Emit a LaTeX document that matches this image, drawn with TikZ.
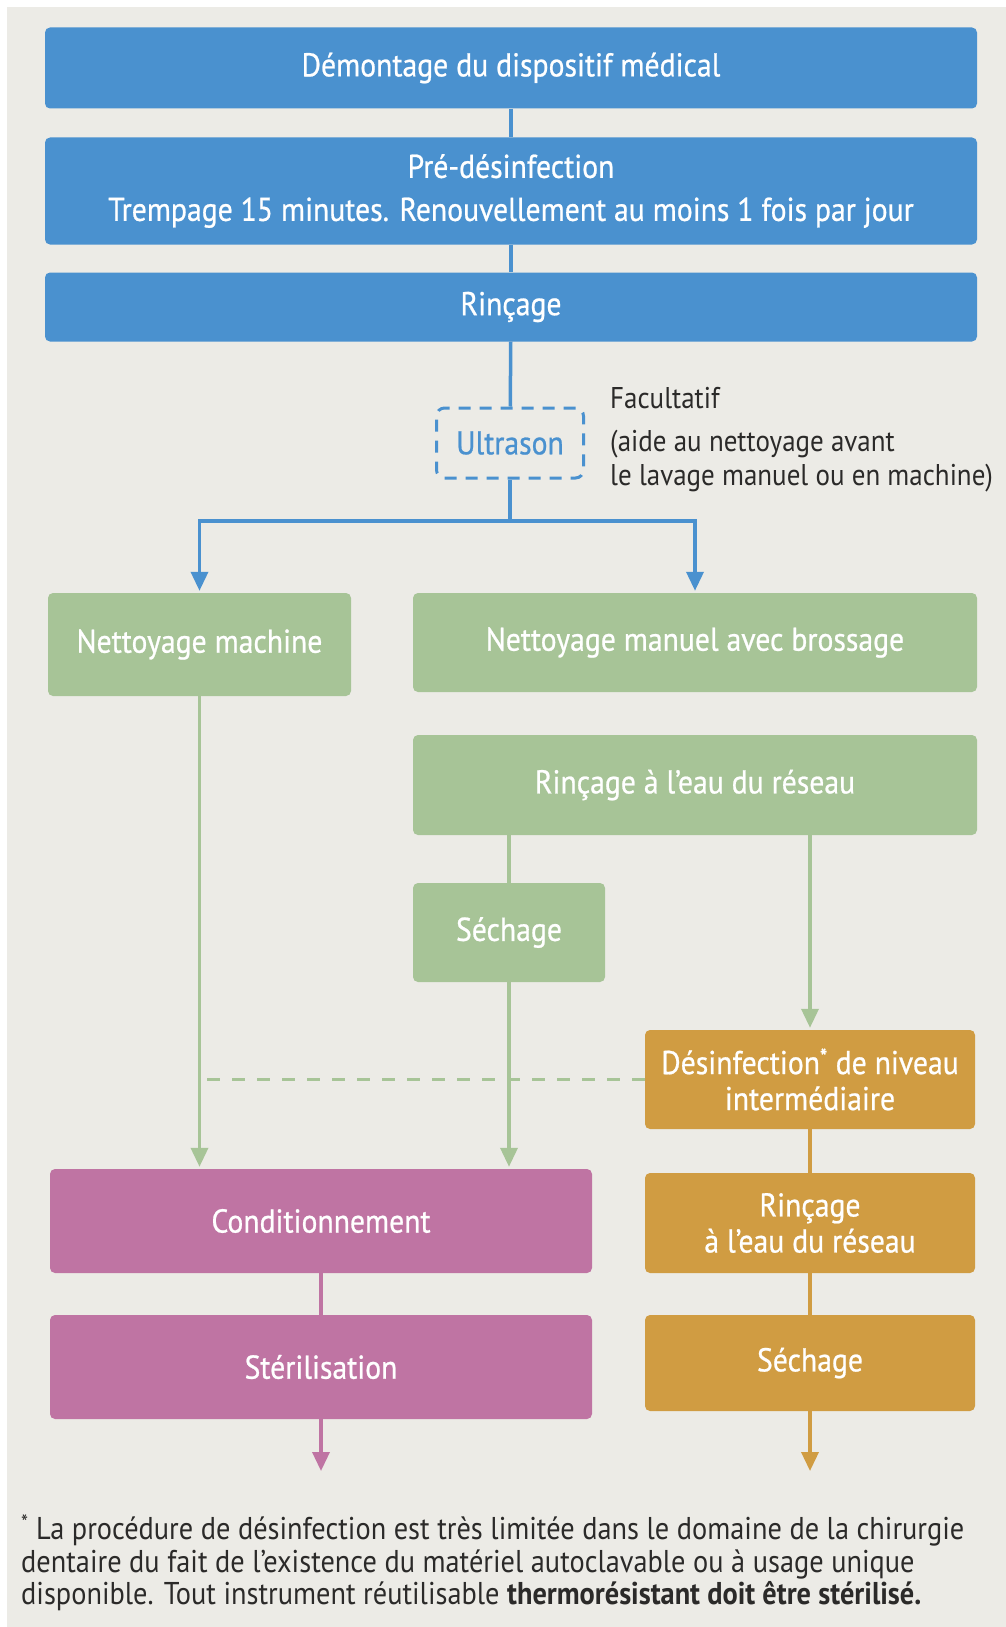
\documentclass[tikz,border=0pt]{standalone}
\usepackage{fontspec}
\setmainfont{PT Sans}[FakeStretch=0.9]
\newfontfamily\boxfamily{PT Sans}[FakeStretch=0.9, FakeBold=0.7]
\usetikzlibrary{arrows.meta}

\newcommand{\boxfont}{\boxfamily\fontsize{33}{36}\selectfont}
\newcommand{\notefont}{\fontsize{31.5}{32.5}\selectfont}

\begin{document}
\begin{tikzpicture}[x=1pt,y=-1pt,
    stepbox/.style={rounded corners=5pt, text=white, align=center, inner sep=0pt, font=\boxfont},
    bluebox/.style={stepbox, fill=flow_blue},
    greenbox/.style={stepbox, fill=flow_green},
    pinkbox/.style={stepbox, fill=flow_pink},
    orangebox/.style={stepbox, fill=flow_orange},
    ultrabox/.style={rounded corners=8pt, draw=flow_blue, line width=3pt, dash pattern=on 12pt off 9pt, text=flow_blue, font=\boxfont},
    notetext/.style={text=flow_text, align=left, inner sep=0pt, font=\notefont},
    joinline/.style={line width=3.5pt},
    arrowto/.style={-{Triangle[length=19pt,width=17pt]}, shorten >=2pt}
]
    \definecolor{flow_blue}{HTML}{4A91CF}
    \definecolor{flow_green}{HTML}{A7C497}
    \definecolor{flow_pink}{HTML}{BF74A3}
    \definecolor{flow_orange}{HTML}{D09C42}
    \definecolor{flow_bg}{HTML}{ECEBE6}
    \definecolor{flow_text}{HTML}{2B2A29}
    \useasboundingbox (0,0) rectangle (1006,1627);
    \fill[white] (0,0) rectangle (1006,1627);
    \fill[flow_bg] (7,7) rectangle (1006,1627);
    % \draw[help lines] (0,0) grid[step=100] (1006,1627);

    % blue part
    \node[bluebox, minimum width=932pt, minimum height=81pt] (demontage) at (511,68) {Démontage du dispositif médical};
    \node[bluebox, minimum width=932pt, minimum height=107pt] (predesinf) at (511,191) {Pré-désinfection\\[7pt]Trempage 15 minutes. Renouvellement au moins 1 fois par jour};
    \node[bluebox, minimum width=932pt, minimum height=69pt] (rincage) at (511,307) {Rinçage};
    \node[ultrabox, minimum width=147pt, minimum height=70pt] (ultrason) at (510,443) {Ultrason};
    \node[notetext, anchor=west, font=\fontsize{30}{34}\selectfont] (facultatif) at (610,440) {Facultatif\\[9pt](aide au nettoyage avant\\le lavage manuel ou en machine)};
    \coordinate (split) at (510,521);

    % green part
    \node[greenbox, minimum width=303pt, minimum height=103pt] (machine) at (199.5,644.5) {Nettoyage machine};
    \node[greenbox, minimum width=564pt, minimum height=99pt] (manuel) at (695,642.5) {Nettoyage manuel avec brossage};
    \node[greenbox, minimum width=564pt, minimum height=100pt] (rincreseau) at (695,785) {Rinçage à l’eau du réseau};
    \node[greenbox, minimum width=192pt, minimum height=99pt] (sechage) at (509,932.5) {Séchage};

    % orange and pink part
    \node[orangebox, minimum width=330pt, minimum height=99pt] (desinfection) at (810,1079.5) {Désinfection\textsuperscript{*} de niveau\\intermédiaire};
    \node[orangebox, minimum width=330pt, minimum height=100pt] (rincfinal) at (810,1223) {Rinçage\\à l’eau du réseau};
    \node[orangebox, minimum width=330pt, minimum height=96pt] (sechfinal) at (810,1363) {Séchage};
    \node[pinkbox, minimum width=542pt, minimum height=104pt] (condition) at (321,1221) {Conditionnement};
    \node[pinkbox, minimum width=542pt, minimum height=104pt] (sterilisation) at (321,1367) {Stérilisation};
    \coordinate (endpink) at (321,1473);
    \coordinate (endorange) at (810,1473);

    \node[notetext, anchor=west] (footnote) at (21,1563) {\textsuperscript{*} La procédure de désinfection est très limitée dans le domaine de la chirurgie\\dentaire du fait de l’existence du matériel autoclavable ou à usage unique\\disponible. Tout instrument réutilisable \textbf{thermorésistant doit être stérilisé.}};

    % connectors
    \draw[joinline, flow_blue] (demontage) -- (predesinf);
    \draw[joinline, flow_blue] (predesinf) -- (rincage);
    \draw[joinline, flow_blue] (rincage) -- (ultrason);
    \draw[joinline, flow_blue] (ultrason) -- (split);
    \draw[joinline, flow_blue, arrowto] (split) -| (machine);
    \draw[joinline, flow_blue, arrowto] (split) -| (manuel);

    \draw[joinline, flow_green] (rincreseau.south -| sechage) -- (sechage);
    \draw[joinline, flow_green, arrowto] (rincreseau.south -| desinfection) -- (desinfection);
    \draw[joinline, flow_green, arrowto] (machine) -- (machine |- condition.north);
    \draw[joinline, flow_green, arrowto] (sechage) -- (sechage |- condition.north);
    \draw[joinline, flow_green, dash pattern=on 13pt off 12pt] (desinfection) -- (desinfection -| machine);

    \draw[joinline, flow_orange] (desinfection) -- (rincfinal);
    \draw[joinline, flow_orange] (rincfinal) -- (sechfinal);
    \draw[joinline, flow_orange, arrowto] (sechfinal) -- (endorange);
    \draw[joinline, flow_pink] (condition) -- (sterilisation);
    \draw[joinline, flow_pink, arrowto] (sterilisation) -- (endpink);
\end{tikzpicture}
\end{document}
